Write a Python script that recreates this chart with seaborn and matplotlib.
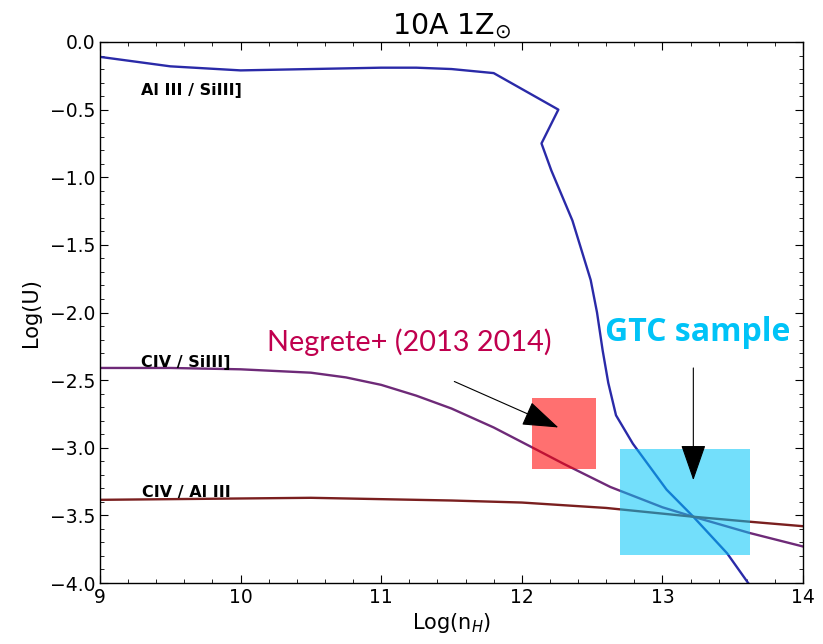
import numpy as np
import pandas as pd
import matplotlib
matplotlib.use("Agg")
import matplotlib.pyplot as plt
from matplotlib.patches import Rectangle
from matplotlib.ticker import MultipleLocator
import seaborn as sns

# Ionisation-parameter curves versus hydrogen density (10A model, solar metallicity)
alsi_x = [9.0, 9.5, 10.0, 10.5, 11.0, 11.25, 11.5, 11.8, 12.26, 12.14, 12.21, 12.36,
          12.49, 12.535, 12.575, 12.615, 12.67, 12.79, 13.03, 13.22, 13.46, 13.61, 13.66]
alsi_y = [-0.11, -0.18, -0.21, -0.20, -0.19, -0.19, -0.20, -0.23, -0.50, -0.75, -0.95, -1.32,
          -1.76, -2.00, -2.28, -2.52, -2.76, -2.97, -3.31, -3.51, -3.78, -4.00, -4.06]

civsi_x = [9.0, 9.5, 10.0, 10.5, 10.75, 11.0, 11.25, 11.5, 11.8, 12.06, 12.3, 12.63,
           13.0, 13.22, 13.62, 14.0]
civsi_y = [-2.41, -2.41, -2.42, -2.445, -2.48, -2.535, -2.615, -2.71, -2.85, -2.99, -3.12, -3.29,
           -3.44, -3.51, -3.63, -3.73]

cival_x = [9.0, 10.0, 10.5, 11.0, 11.5, 12.0, 12.6, 13.22, 13.6, 14.0]
cival_y = [-3.385, -3.375, -3.37, -3.38, -3.39, -3.405, -3.445, -3.51, -3.545, -3.58]

curve_names = ["Al III / SiIII]", "CIV / SiIII]", "CIV / Al III"]
curve_colors = ["#2a2aa8", "#6e2a78", "#7a1f1f"]

# Observed regions: (x0, x1, y0, y1)
negrete_box = [12.07, 12.53, -3.16, -2.63]
gtc_box = [12.70, 13.62, -3.79, -3.01]

df = pd.concat([
    pd.DataFrame({"nH": alsi_x, "U": alsi_y, "ratio": curve_names[0]}),
    pd.DataFrame({"nH": civsi_x, "U": civsi_y, "ratio": curve_names[1]}),
    pd.DataFrame({"nH": cival_x, "U": cival_y, "ratio": curve_names[2]}),
], ignore_index=True)

sns.set_style("white")
plt.rcParams["font.family"] = ["DejaVu Sans"]
plt.rcParams["mathtext.fontset"] = "dejavusans"
for key in ["text.color", "axes.labelcolor", "xtick.color", "ytick.color", "axes.edgecolor"]:
    plt.rcParams[key] = "black"

fig = plt.figure(figsize=(8.23, 6.44), dpi=100)
ax = fig.add_axes([0.1215, 0.0947, 0.8542, 0.8401])

sns.lineplot(data=df, x="nH", y="U", hue="ratio", palette=dict(zip(curve_names, curve_colors)),
             sort=False, estimator=None, lw=1.7, legend=False, ax=ax, zorder=2)

ax.set_xlim(9, 14)
ax.set_ylim(-4.0, 0.0)
ax.xaxis.set_major_locator(MultipleLocator(1))
ax.xaxis.set_minor_locator(MultipleLocator(0.2))
ax.yaxis.set_major_locator(MultipleLocator(0.5))
ax.yaxis.set_minor_locator(MultipleLocator(0.1))
ax.tick_params(which="both", direction="in", top=True, right=True, bottom=True, left=True,
               color="black", labelcolor="black", labelsize=13.5)
ax.tick_params(which="major", length=6, width=0.8)
ax.tick_params(which="minor", length=3, width=0.6)
for s in ax.spines.values():
    s.set_color("black")
    s.set_linewidth(1.0)

ax.set_xlabel("Log(n$_H$)", fontsize=15, labelpad=3)
ax.set_ylabel("Log(U)", fontsize=15, labelpad=6)
ax.set_title("10A 1Z$_{\\odot}$", fontsize=20.5, pad=6)

# Curve labels
ax.text(9.29, -0.355, curve_names[0], fontsize=11.5, fontweight="bold", va="center", ha="left")
ax.text(9.29, -2.37, curve_names[1], fontsize=11.5, fontweight="bold", va="center", ha="left")
ax.text(9.30, -3.33, curve_names[2], fontsize=11.5, fontweight="bold", va="center", ha="left")

# Shaded observational regions
ax.add_patch(Rectangle((negrete_box[0], negrete_box[2]), negrete_box[1] - negrete_box[0],
                       negrete_box[3] - negrete_box[2], facecolor="#ff0000", alpha=0.56,
                       edgecolor="none", zorder=3))
ax.add_patch(Rectangle((gtc_box[0], gtc_box[2]), gtc_box[1] - gtc_box[0],
                       gtc_box[3] - gtc_box[2], facecolor="#00c6f8", alpha=0.55,
                       edgecolor="none", zorder=3))

# Annotations
ax.text(10.19, -2.22, "Negrete+ (2013 2014)", fontsize=20.8, color="#c0004e",
        family=["Lato", "DejaVu Sans"], va="center", ha="left", zorder=5)
ax.text(13.25, -2.15, "GTC sample", fontsize=23, color="#00c3f7", fontweight="bold",
        family=["Open Sans", "DejaVu Sans"], va="center", ha="center", zorder=5)

arrow_style = "-|>,head_length=2.3,head_width=0.8"
ax.annotate("", xy=(12.26, -2.85), xytext=(11.52, -2.51),
            arrowprops=dict(arrowstyle=arrow_style, color="black", lw=0.8,
                            shrinkA=0, shrinkB=0), zorder=6)
ax.annotate("", xy=(13.22, -3.24), xytext=(13.22, -2.41),
            arrowprops=dict(arrowstyle=arrow_style, color="black", lw=0.8,
                            shrinkA=0, shrinkB=0), zorder=6)

fig.savefig("out.png", dpi=100)
